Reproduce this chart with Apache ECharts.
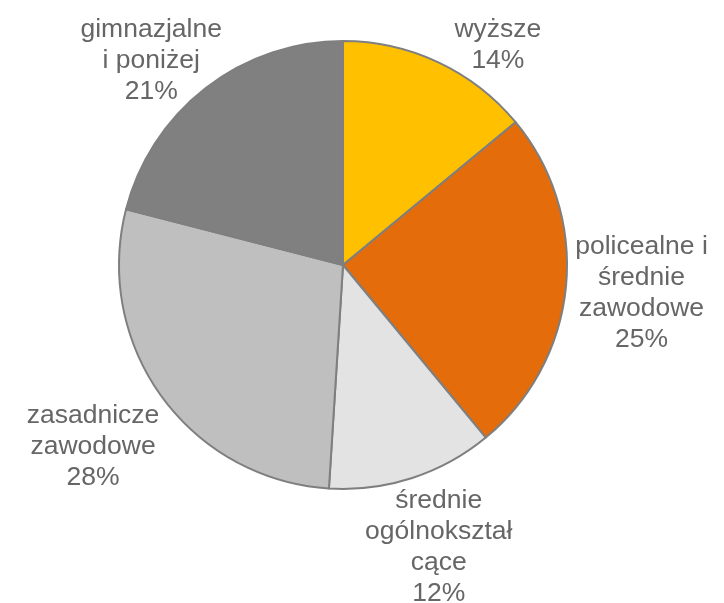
<!DOCTYPE html>
<html>
<head>
<meta charset="utf-8">
<script src="https://cdn.jsdelivr.net/npm/echarts@6/dist/echarts.min.js"></script>
<style>
  html, body { margin: 0; padding: 0; background: #fff; }
  #chart { width: 724px; height: 603px; }
</style>
</head>
<body>
<div id="chart"></div>
<script>
const categories = [
  'wyższe',
  'policealne i\nśrednie\nzawodowe',
  'średnie\nogólnokształ\ncące',
  'zasadnicze\nzawodowe',
  'gimnazjalne\ni poniżej'
];
const values = [14, 25, 12, 28, 21];
const colors = ['#FFC000', '#E46C0A', '#E3E3E3', '#BFBFBF', '#808080'];

const W = 724, H = 603;
const CX = 343, CY = 265, R = 224, GAP = 4, CLEAR = 4;
const TOP = 14, BOTTOM = 609, SIDE = 4;
const FONT_SIZE = 26.5, LINE_H = 31;
const FONT = FONT_SIZE + 'px "Liberation Sans", Arial, sans-serif';
const total = values.reduce((a, b) => a + b, 0);

// mid angle of each slice, clockwise from 12 o'clock
const midAngles = [];
let acc = 0;
values.forEach(v => {
  midAngles.push((acc + v / 2) / total * Math.PI * 2);
  acc += v;
});

const ctx = document.createElement('canvas').getContext('2d');
ctx.font = FONT;
const lineWidths = categories.map((c, i) =>
  (c + '\n' + Math.round(values[i] / total * 100) + '%').split('\n').map(s => ctx.measureText(s).width)
);

// does any line of a label (centered at x,y) cut into the circle?
function hitsCircle(idx, x, y) {
  const ws = lineWidths[idx];
  const h = ws.length * LINE_H;
  const rr = R + CLEAR;
  for (let k = 0; k < ws.length; k++) {
    const x0 = x - ws[k] / 2, x1 = x + ws[k] / 2;
    const y0 = y - h / 2 + k * LINE_H, y1 = y0 + LINE_H;
    const nx = Math.max(x0, Math.min(CX, x1));
    const ny = Math.max(y0, Math.min(CY, y1));
    if ((nx - CX) * (nx - CX) + (ny - CY) * (ny - CY) < rr * rr) return true;
  }
  return false;
}

const chart = echarts.init(document.getElementById('chart'), null, { renderer: 'canvas' });

chart.setOption({
  animation: false,
  series: [{
    type: 'pie',
    center: [CX, CY],
    radius: R,
    startAngle: 90,
    clockwise: true,
    data: categories.map((name, i) => ({
      name: name,
      value: values[i],
      itemStyle: { color: colors[i] }
    })),
    itemStyle: { borderColor: '#7F7F7F', borderWidth: 2 },
    emphasis: { disabled: true },
    label: {
      show: true,
      position: 'outside',
      formatter: '{b}\n{d}%',
      fontFamily: '"Liberation Sans", Arial, sans-serif',
      fontSize: FONT_SIZE,
      lineHeight: LINE_H,
      color: '#666666',
      align: 'center',
      overflow: 'none'
    },
    labelLine: { show: false },
    labelLayout: function (params) {
      const i = params.dataIndex;
      const a = midAngles[i];
      const sx = Math.sin(a), sy = -Math.cos(a);
      const w = Math.max.apply(null, lineWidths[i]);
      const h = lineWidths[i].length * LINE_H;
      const d = R + GAP + Math.abs(sx) * w / 2 + Math.abs(sy) * h / 2;
      let x = CX + sx * d;
      let y = CY + sy * d;
      // keep inside the canvas
      y = Math.min(Math.max(y, TOP + h / 2), BOTTOM - h / 2);
      x = Math.min(Math.max(x, SIDE + w / 2), W - SIDE - w / 2);
      // upper labels pushed to the top edge slide sideways off the pie
      if (sy < 0) {
        const dir = sx >= 0 ? 1 : -1;
        let n = 0;
        while (hitsCircle(i, x, y) && n < 200) { x += dir; n++; }
      }
      return { x: x, y: y, align: 'center', verticalAlign: 'middle' };
    }
  }]
});
</script>
</body>
</html>
